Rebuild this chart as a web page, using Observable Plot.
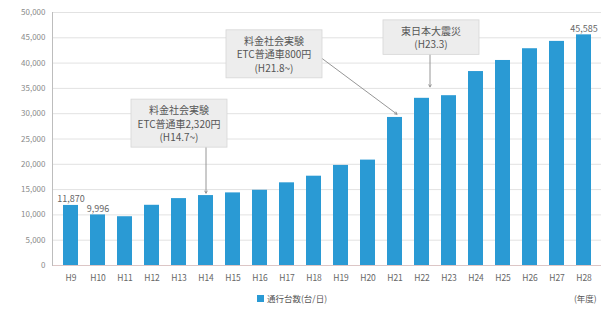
<!DOCTYPE html>
<html><head><meta charset="utf-8">
<script src="https://cdn.jsdelivr.net/npm/d3@7"></script>
<script src="https://cdn.jsdelivr.net/npm/@observablehq/plot@0.6"></script>
<style>
body{margin:0;background:#fff;font-family:"Noto Sans CJK JP","Noto Sans",sans-serif;}
#wrap{width:609px;height:309px;position:relative;overflow:hidden}
#legend{position:relative;height:19px;font-size:8.5px;color:#555}
#legend .sw{position:absolute;left:257px;top:5px;width:7px;height:7px;background:#2a9ad4}
#legend .lt{position:absolute;left:267px;top:2px}
#legend .unit{position:absolute;left:574px;top:2px}
</style></head>
<body><div id="wrap"><div id="chart"></div><div id="legend"><span class="sw"></span><span class="lt">通行台数(台/日)</span><span class="unit">(年度)</span></div></div>
<script>
const years = ["H9","H10","H11","H12","H13","H14","H15","H16","H17","H18","H19","H20","H21","H22","H23","H24","H25","H26","H27","H28"];
const traffic = [11870,9996,9640,11900,13220,13820,14350,14870,16340,17650,19780,20830,29260,33040,33560,38330,40520,42840,44290,45585];
const yTicks = [0,5000,10000,15000,20000,25000,30000,35000,40000,45000,50000];
const valueLabels = ["H9","H10","H28"];
const annoText = ["料金社会実験\nETC普通車2,320円\n(H14.7~)","料金社会実験\nETC普通車800円\n(H21.8~)","東日本大震災\n(H23.3)"];
const annoX = ["H13","H17","H22"];
const annoY = [28100,41800,45100];
const annoDx = [0,-13,9];
const arrowX1 = ["H14","H18","H22"];
const arrowX2 = ["H14","H21","H22"];
const arrowY1 = [26000,41800,43000];
const arrowY2 = [14300,29900,35300];
const arrowDx = [0,2,8];

const bars = years.map((y,i)=>({year:y, value:traffic[i]}));
const labels = bars.filter(d=>valueLabels.includes(d.year));
const annos = annoText.map((t,i)=>({text:t, x:annoX[i], y:annoY[i], dx:annoDx[i]}));
const arrows = arrowX1.map((x,i)=>({x1:x, x2:arrowX2[i], y1:arrowY1[i], y2:arrowY2[i], dx:arrowDx[i]}));
const blue = "#2a9ad4";

const svg = Plot.plot({
  width: 609, height: 290,
  marginLeft: 52, marginRight: 8, marginTop: 12, marginBottom: 25,
  style: {fontFamily: '"Noto Sans CJK JP","Noto Sans",sans-serif', background: "#fff"},
  x: {domain: years, paddingInner: 0.45, paddingOuter: 0.225, label: null},
  y: {domain: [0, 50000], label: null},
  marks: [
    Plot.gridY(yTicks, {stroke: "#e2e2e2", strokeOpacity: 1}),
    Plot.axisY({ticks: yTicks, tickSize: 0, tickPadding: 7, fontSize: 8, color: "#8a8a8a", tickFormat: d3.format(","), label: null}),
    Plot.axisX({tickSize: 0, tickPadding: 9, fontSize: 8.5, color: "#666", label: null}),
    Plot.barY(bars, {x: "year", y: "value", fill: blue}),
    Plot.ruleY([0], {stroke: "#dcc6c6"}),
    Plot.frame({anchor: "left", stroke: "#bdbdbd"}),
    Plot.text(labels, {x: "year", y: "value", text: d => d3.format(",")(d.value), lineAnchor: "bottom", dy: -3, fontSize: 9, fill: "#666"}),
    ...arrows.map(a => Plot.arrow([a], {x1: "x1", x2: "x2", y1: "y1", y2: "y2", dx: a.dx, stroke: "#8a8a8a", strokeWidth: 0.9, headLength: 4, bend: false})),
    ...annos.map(a => Plot.text([a], {x: "x", y: "y", text: "text", dx: a.dx, fontSize: 10, lineHeight: 1.35, fill: "#555"}))
  ]
});
document.getElementById("chart").append(svg);
const starts = annoText.map(t => t.split("\n")[0]);
Array.from(svg.querySelectorAll("text")).forEach(function(el){
  const first = el.querySelector("tspan");
  const content = first ? first.textContent : el.textContent;
  if (!starts.includes(content)) return;
  const b = el.getBBox();
  const py = 3;
  const w = Math.max(b.width + 10, 96);
  const cx = b.x + b.width / 2;
  const r = document.createElementNS("http://www.w3.org/2000/svg", "rect");
  r.setAttribute("x", cx - w / 2); r.setAttribute("y", b.y - py);
  r.setAttribute("width", w); r.setAttribute("height", b.height + 2*py);
  const tr = el.getAttribute("transform"); if (tr) r.setAttribute("transform", tr);
  r.setAttribute("fill", "#ededed"); r.setAttribute("stroke", "#d6d6d6"); r.setAttribute("stroke-width", "0.8");
  el.parentNode.insertBefore(r, el);
});
</script></body></html>
